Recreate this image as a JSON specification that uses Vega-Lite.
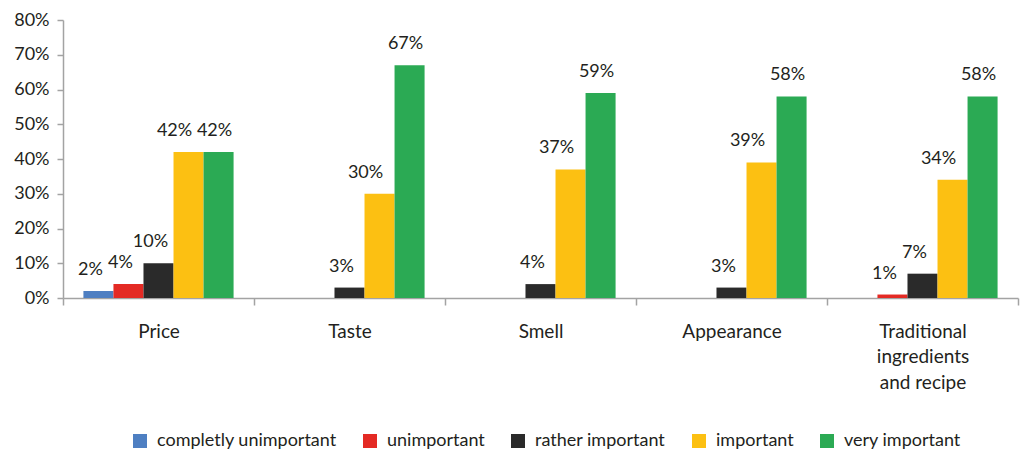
{
  "$schema": "https://vega.github.io/schema/vega-lite/v6.json",
  "width": 955,
  "height": 278,
  "autosize": {"type": "none"},
  "padding": {"left": 63, "top": 20, "right": 2, "bottom": 154},
  "config": {
    "font": "Lato",
    "view": {"stroke": null},
    "axis": {"labelFont": "Lato", "labelColor": "#231f20", "labelFontSize": 18, "domainColor": "#a3a3a3", "tickColor": "#a3a3a3", "domainWidth": 1.5, "tickWidth": 1.5, "grid": false, "title": null},
    "legend": {"labelFont": "Lato", "labelFontSize": 18, "labelColor": "#231f20", "labelLimit": 0}
  },
  "data": {
    "values": [
      {"factor": "Price", "rating": "completly unimportant", "share": 0.02},
      {"factor": "Price", "rating": "unimportant", "share": 0.04},
      {"factor": "Price", "rating": "rather important", "share": 0.10},
      {"factor": "Price", "rating": "important", "share": 0.42},
      {"factor": "Price", "rating": "very important", "share": 0.42},
      {"factor": "Taste", "rating": "rather important", "share": 0.03},
      {"factor": "Taste", "rating": "important", "share": 0.30},
      {"factor": "Taste", "rating": "very important", "share": 0.67},
      {"factor": "Smell", "rating": "rather important", "share": 0.04},
      {"factor": "Smell", "rating": "important", "share": 0.37},
      {"factor": "Smell", "rating": "very important", "share": 0.59},
      {"factor": "Appearance", "rating": "rather important", "share": 0.03},
      {"factor": "Appearance", "rating": "important", "share": 0.39},
      {"factor": "Appearance", "rating": "very important", "share": 0.58},
      {"factor": "Traditional ingredients and recipe", "rating": "unimportant", "share": 0.01},
      {"factor": "Traditional ingredients and recipe", "rating": "rather important", "share": 0.07},
      {"factor": "Traditional ingredients and recipe", "rating": "important", "share": 0.34},
      {"factor": "Traditional ingredients and recipe", "rating": "very important", "share": 0.58}
    ]
  },
  "encoding": {
    "x": {
      "field": "factor",
      "type": "nominal",
      "sort": ["Price", "Taste", "Smell", "Appearance", "Traditional ingredients and recipe"],
      "scale": {"paddingInner": 0, "paddingOuter": 0},
      "axis": {
        "tickBand": "extent",
        "labelAngle": 0,
        "tickSize": 7,
        "labelPadding": 17,
        "labelBaseline": "top",
        "labelFontSize": 19,
        "labelLineHeight": 25.5,
        "labelExpr": "datum.label == 'Traditional ingredients and recipe' ? ['Traditional', 'ingredients', 'and recipe'] : datum.label"
      }
    },
    "xOffset": {
      "field": "rating",
      "type": "nominal",
      "scale": {
        "domain": ["completly unimportant", "unimportant", "rather important", "important", "very important"],
        "paddingInner": 0,
        "paddingOuter": 0.68
      }
    },
    "y": {
      "field": "share",
      "type": "quantitative",
      "scale": {"domain": [0, 0.8], "nice": false},
      "axis": {"format": ".0%", "values": [0, 0.1, 0.2, 0.3, 0.4, 0.5, 0.6, 0.7, 0.8], "tickSize": 6, "labelPadding": 8}
    }
  },
  "layer": [
    {
      "mark": {"type": "bar"},
      "encoding": {
        "color": {
          "field": "rating",
          "type": "nominal",
          "scale": {
            "domain": ["completly unimportant", "unimportant", "rather important", "important", "very important"],
            "range": ["#4e7fc2", "#e42a24", "#2a2a2a", "#fcc012", "#2baa54"]
          },
          "legend": {
            "orient": "none",
            "legendX": 68,
            "legendY": 412,
            "direction": "horizontal",
            "title": null,
            "symbolType": "square",
            "symbolSize": 196,
            "symbolStrokeWidth": 0,
            "columnPadding": 24,
            "labelOffset": 8
          }
        }
      }
    },
    {
      "transform": [{"filter": "datum.rating == 'important'"}],
      "mark": {"type": "text", "dy": -16, "dx": -14, "baseline": "alphabetic", "fontSize": 18, "color": "#231f20"},
      "encoding": {"text": {"field": "share", "type": "quantitative", "format": ".0%"}}
    },
    {
      "transform": [{"filter": "datum.rating == 'very important'"}],
      "mark": {"type": "text", "dy": -16, "dx": -4, "baseline": "alphabetic", "fontSize": 18, "color": "#231f20"},
      "encoding": {"text": {"field": "share", "type": "quantitative", "format": ".0%"}}
    },
    {
      "transform": [{"filter": "datum.rating != 'important' && datum.rating != 'very important'"}],
      "mark": {"type": "text", "dy": -16, "dx": -8, "baseline": "alphabetic", "fontSize": 18, "color": "#231f20"},
      "encoding": {"text": {"field": "share", "type": "quantitative", "format": ".0%"}}
    }
  ]
}
